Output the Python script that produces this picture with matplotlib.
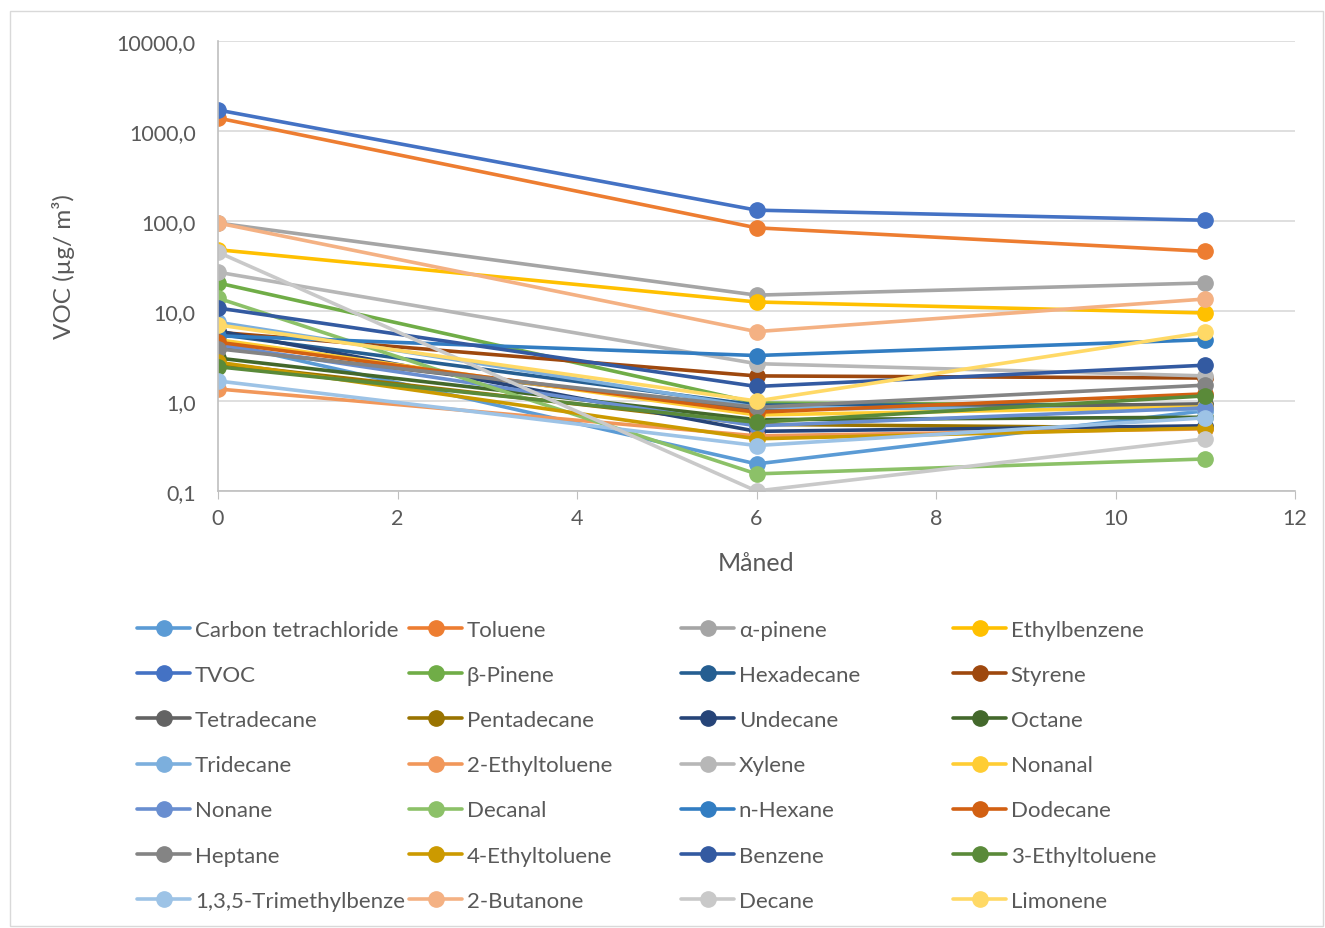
import matplotlib
matplotlib.use("Agg")
import matplotlib.pyplot as plt
from matplotlib.ticker import FixedLocator, FuncFormatter
from matplotlib.patches import Rectangle

# months sampled
months = [0, 6, 11]

names = ["Carbon tetrachloride", "Toluene", "α-pinene", "Ethylbenzene",
         "TVOC", "β-Pinene", "Hexadecane", "Styrene",
         "Tetradecane", "Pentadecane", "Undecane", "Octane",
         "Tridecane", "2-Ethyltoluene", "Xylene", "Nonanal",
         "Nonane", "Decanal", "n-Hexane", "Dodecane",
         "Heptane", "4-Ethyltoluene", "Benzene", "3-Ethyltoluene",
         "1,3,5-Trimethylbenze", "2-Butanone", "Decane", "Limonene"]

# VOC in ug/m3 at month 0, 6, 11
carbon_tet = [4.5, 0.20, 0.78]
toluene = [1394, 84, 46]
a_pinene = [95, 15, 20.5]
ethylbenzene = [48, 12.6, 9.5]
tvoc = [1711, 132, 102]
b_pinene = [20.5, 0.95, 0.9]
hexadecane = [5.5, 0.9, 0.9]
styrene = [5.8, 1.9, 1.8]
tetradecane = [3.9, 0.8, 0.93]
pentadecane = [2.6, 0.55, 0.5]
undecane = [6.0, 0.46, 0.53]
octane = [3.0, 0.62, 0.66]
tridecane = [7.5, 0.85, 0.8]
ethyltoluene2 = [1.36, 0.41, 0.49]
xylene = [27, 2.6, 1.9]
nonanal = [4.8, 0.7, 0.86]
nonane = [4.2, 0.53, 0.84]
decanal = [13.9, 0.155, 0.227]
n_hexane = [5.3, 3.2, 4.8]
dodecane = [4.5, 0.75, 1.2]
heptane = [3.8, 0.85, 1.5]
ethyltoluene4 = [2.7, 0.38, 0.5]
benzene = [10.8, 1.45, 2.5]
ethyltoluene3 = [2.4, 0.58, 1.14]
tmb = [1.67, 0.32, 0.65]
butanone = [95, 5.9, 13.6]
decane = [45, 0.10, 0.38]
limonene = [7.0, 1.0, 5.8]

series = [carbon_tet, toluene, a_pinene, ethylbenzene, tvoc, b_pinene,
          hexadecane, styrene, tetradecane, pentadecane, undecane, octane,
          tridecane, ethyltoluene2, xylene, nonanal, nonane, decanal,
          n_hexane, dodecane, heptane, ethyltoluene4, benzene, ethyltoluene3,
          tmb, butanone, decane, limonene]

colors = ["#5B9BD5", "#ED7D31", "#A5A5A5", "#FFC000", "#4472C4", "#70AD47",
          "#255E91", "#9E480E", "#636363", "#997300", "#264478", "#43682B",
          "#7CAFDD", "#F1975A", "#B7B7B7", "#FFCD33", "#698ED0", "#8CC168",
          "#327DC2", "#D26012", "#848484", "#CC9A00", "#335AA1", "#5A8A39",
          "#9DC3E6", "#F4B183", "#C9C9C9", "#FFD966"]

plt.rcParams['font.family'] = ['Lato', 'DejaVu Sans']
txt = "#595959"

fig = plt.figure(figsize=(13.25, 9.29), dpi=100)
ax = fig.add_axes([218/1325, 1-492/929, (1295-218)/1325, (492-42)/929])

handles = []
for name, vals, c in zip(names, series, colors):
    h, = ax.plot(months, vals, color=c, lw=2.6, marker="o", markersize=11,
                 label=name, solid_capstyle="round")
    handles.append(h)

ax.set_yscale("log")
ax.set_ylim(0.1, 10000)
ax.set_xlim(0, 12)
ax.yaxis.set_major_locator(FixedLocator([0.1, 1, 10, 100, 1000, 10000]))
ax.yaxis.set_minor_locator(FixedLocator([]))
ax.yaxis.set_major_formatter(FuncFormatter(lambda v, p: f"{v:.1f}".replace(".", ",")))
ax.set_xticks(range(0, 13, 2))
ax.grid(axis="y", color="#D9D9D9", lw=1.2)
ax.set_axisbelow(True)
for s in ["top", "right"]:
    ax.spines[s].set_visible(False)
ax.spines["left"].set_color("#BFBFBF")
ax.spines["bottom"].set_color("#BFBFBF")
ax.spines["left"].set_linewidth(1.2)
ax.spines["bottom"].set_linewidth(1.2)
ax.tick_params(axis="y", length=0, labelsize=15.5, colors=txt, pad=16)
ax.tick_params(axis="x", length=6, color="#BFBFBF", labelsize=15.5, colors=txt, pad=6)

ax.set_xlabel("Måned", fontsize=18, color=txt, labelpad=17)
ax.set_ylabel("VOC (µg/ m³)", fontsize=17.5, color=txt, labelpad=30)

# Excel fills the legend row by row: one legend per column, fixed column pitch
ncol = 4
col_x = [137, 409, 681, 953]
for c in range(ncol):
    idx = list(range(c, len(names), ncol))
    leg = fig.legend([handles[i] for i in idx], [names[i] for i in idx],
                     loc="upper left", bbox_to_anchor=(col_x[c]/1325, 1-621/929),
                     frameon=False, fontsize=16, handlelength=2.4, handletextpad=0.2,
                     labelspacing=1.13, borderaxespad=0, borderpad=0)
    for t in leg.get_texts():
        t.set_color(txt)

fig.patches.append(Rectangle((10/1325, 0.002), 1313/1325, 1-14/929, transform=fig.transFigure,
                             fill=False, edgecolor="#D9D9D9", lw=1))

fig.savefig("out.png", dpi=100, facecolor="white")
